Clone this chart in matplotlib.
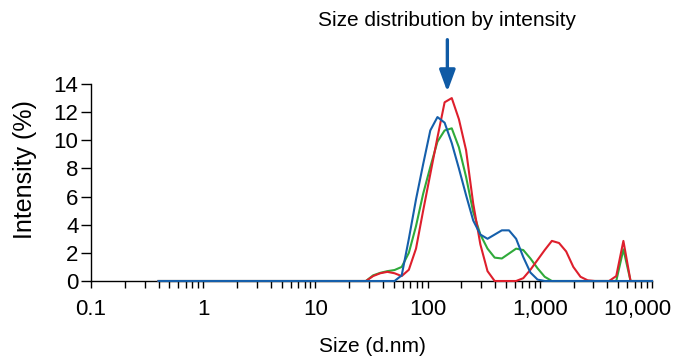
import matplotlib
matplotlib.use('Agg')
import matplotlib.pyplot as plt
import matplotlib.transforms as mtransforms
from matplotlib.ticker import FixedLocator, LogLocator, NullFormatter

plt.rcParams['font.family'] = ['Liberation Sans', 'DejaVu Sans']

# ---- data (size bins in nm, intensity in %) ----
sizes_nm = [0.4, 24.36, 28.21, 32.67, 37.84, 43.82, 50.75, 58.77, 68.06, 78.82,
            91.28, 105.7, 122.4, 141.8, 164.2, 190.1, 220.2, 255.0, 295.3, 342.0,
            396.1, 458.7, 531.2, 615.1, 712.4, 825.0, 955.4, 1106, 1281, 1484,
            1718, 1990, 2305, 2669, 3091, 3580, 4145, 4801, 5560, 6439,
            7456, 8635, 10000]

blue = [0, 0, 0, 0, 0, 0, 0, 0.4, 3.0, 5.8,
        8.3, 10.7, 11.65, 11.25, 9.8, 8.0, 6.1, 4.3, 3.3, 3.0,
        3.3, 3.6, 3.6, 3.0, 1.7, 0.6, 0.1, 0, 0, 0,
        0, 0, 0, 0, 0, 0, 0, 0, 0, 0,
        0, 0, 0]

green = [0, 0, 0, 0.4, 0.58, 0.7, 0.78, 1.0, 2.0, 3.9,
         6.2, 8.1, 9.9, 10.7, 10.85, 9.5, 7.4, 4.9, 3.3, 2.3,
         1.66, 1.6, 1.95, 2.3, 2.2, 1.6, 0.9, 0.3, 0, 0,
         0, 0, 0, 0, 0, 0, 0, 0, 2.25, 0,
         0, 0, 0]

red = [0, 0, 0, 0.35, 0.55, 0.65, 0.55, 0.35, 0.8, 2.3,
       5.0, 7.6, 10.2, 12.7, 13.0, 11.5, 9.3, 5.5, 2.6, 0.7,
       0, 0, 0, 0, 0.2, 0.8, 1.5, 2.2, 2.85, 2.7,
       2.1, 1.0, 0.3, 0.05, 0, 0, 0, 0.35, 2.85, 0,
       0, 0, 0]

x_ticks = [0.1, 1, 10, 100, 1000, 10000]
x_tick_labels = ['0.1', '1', '10', '100', '1,000', '10,000']
y_ticks = [0, 2, 4, 6, 8, 10, 12, 14]

title_text = 'Size distribution by intensity'
arrow_size = 150  # nm, where the arrow points

# ---- figure ----
W, H = 677, 358
fig = plt.figure(figsize=(W / 100, H / 100), dpi=100)
ax = fig.add_axes([91 / W, 1 - 281 / H, (652 - 91) / W, (281 - 84) / H])

c_blue = '#155fab'
c_green = '#2faa3a'
c_red = '#de1f2c'

ax.plot(sizes_nm, green, color=c_green, lw=1.5, clip_on=False, zorder=3)
ax.plot(sizes_nm, red, color=c_red, lw=1.5, clip_on=False, zorder=4)
ax.plot(sizes_nm, blue, color=c_blue, lw=1.5, clip_on=False, zorder=5)

ax.set_xscale('log')
ax.set_xlim(0.1, 10000)
ax.set_ylim(0, 14)

ax.spines['top'].set_visible(False)
ax.spines['right'].set_visible(False)
for s in ('left', 'bottom'):
    ax.spines[s].set_linewidth(1.0)

ax.xaxis.set_major_locator(FixedLocator(x_ticks))
ax.set_xticklabels(x_tick_labels)
ax.xaxis.set_minor_locator(LogLocator(base=10, subs=range(2, 10)))
ax.xaxis.set_minor_formatter(NullFormatter())
ax.set_yticks(y_ticks)

ax.tick_params(axis='x', which='both', direction='out', length=5, width=1.0,
               labelsize=16, pad=8)
ax.tick_params(axis='y', which='major', direction='out', length=7, width=1.0,
               labelsize=16, pad=2)

# shift the last x tick label left so it stays inside the picture
last = ax.get_xticklabels()[-1]
last.set_transform(last.get_transform() +
                   mtransforms.ScaledTranslation(-15 / 100, 0, fig.dpi_scale_trans))

fig.text(372 / W, 1 - 347 / H, 'Size (d.nm)', ha='center', va='center', fontsize=15)
fig.text(25 / W, 1 - 170 / H, 'Intensity (%)', ha='center', va='center',
         rotation=90, fontsize=18)

fig.text(447 / W, 1 - 21 / H, title_text, ha='center', va='center', fontsize=15)
ax.annotate('', xy=(arrow_size, 13.45), xytext=(arrow_size, 17.15),
            xycoords='data', textcoords='data', annotation_clip=False,
            arrowprops=dict(arrowstyle='-|>,head_length=0.65,head_width=0.24',
                            mutation_scale=20, lw=2.4, color='#0f5aa5',
                            shrinkA=0, shrinkB=0))

fig.savefig('out.png', dpi=100)
